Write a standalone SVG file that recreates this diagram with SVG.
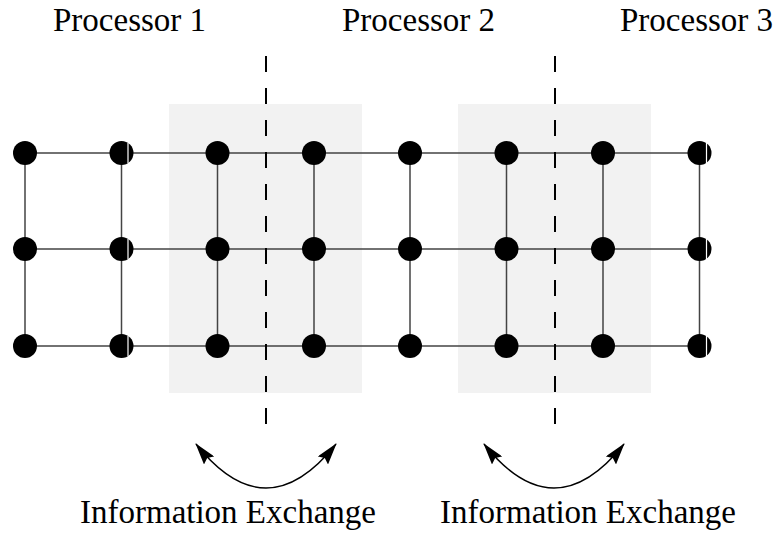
<svg xmlns="http://www.w3.org/2000/svg" width="776" height="533" viewBox="0 0 776 533">
<defs>
<style>
.t{font-family:"Liberation Serif","Times New Roman",serif;font-size:33px;fill:#000}
.box{fill:#f2f2f2}
.ln{stroke:#444;stroke-width:1.5;fill:none}
.dash{stroke:#000;stroke-width:2;stroke-dasharray:16 16;fill:none}
.arc{stroke:#000;stroke-width:1.4;fill:none;marker-start:url(#ah);marker-end:url(#ah)}
.n{fill:#000}
.nk{stroke:#fff;stroke-width:1.2}
</style>
<marker id="ah" viewBox="0 0 22 13" refX="21" refY="6.5" markerWidth="22" markerHeight="13" markerUnits="userSpaceOnUse" orient="auto-start-reverse">
<path d="M0,0 L22,6.5 L0,13 L3,6.5 Z" fill="#000"/>
</marker>
</defs>
<rect class="box" x="169" y="104" width="193" height="289"/>
<rect class="box" x="458" y="104" width="193" height="289"/>
<g id="connectors">
<path class="ln" d="M25,153 H699.5 M25,249 H699.5 M25,346 H699.5"/>
<path class="ln" d="M25,153 V346 M121.5,153 V346 M217.5,153 V346 M314,153 V346 M410,153 V346 M506.5,153 V346 M603,153 V346 M699.5,153 V346"/>
<path class="dash" d="M266,56 V440"/>
<path class="dash" d="M555,56 V440"/>
<path class="arc" d="M196,444 Q266,532 336,444"/>
<path class="arc" d="M484,444 Q554,532 624,444"/>
</g>
<g id="nodes">
<g id="n11"><circle class="n" cx="25" cy="153" r="12"/></g>
<g id="n12"><circle class="n" cx="121.5" cy="153" r="12"/><line class="nk" x1="128" y1="143" x2="128" y2="163"/></g>
<g id="n13"><circle class="n" cx="217.5" cy="153" r="12"/></g>
<g id="n14"><circle class="n" cx="314" cy="153" r="12"/></g>
<g id="n15"><circle class="n" cx="410" cy="153" r="12"/></g>
<g id="n16"><circle class="n" cx="506.5" cy="153" r="12"/></g>
<g id="n17"><circle class="n" cx="603" cy="153" r="12"/></g>
<g id="n18"><circle class="n" cx="699.5" cy="153" r="12"/><line class="nk" x1="706.5" y1="143" x2="706.5" y2="163"/></g>
<g id="n21"><circle class="n" cx="25" cy="249" r="12"/></g>
<g id="n22"><circle class="n" cx="121.5" cy="249" r="12"/><line class="nk" x1="128" y1="239" x2="128" y2="259"/></g>
<g id="n23"><circle class="n" cx="217.5" cy="249" r="12"/></g>
<g id="n24"><circle class="n" cx="314" cy="249" r="12"/></g>
<g id="n25"><circle class="n" cx="410" cy="249" r="12"/></g>
<g id="n26"><circle class="n" cx="506.5" cy="249" r="12"/></g>
<g id="n27"><circle class="n" cx="603" cy="249" r="12"/></g>
<g id="n28"><circle class="n" cx="699.5" cy="249" r="12"/><line class="nk" x1="706.5" y1="239" x2="706.5" y2="259"/></g>
<g id="n31"><circle class="n" cx="25" cy="346" r="12"/></g>
<g id="n32"><circle class="n" cx="121.5" cy="346" r="12"/><line class="nk" x1="128" y1="336" x2="128" y2="356"/></g>
<g id="n33"><circle class="n" cx="217.5" cy="346" r="12"/></g>
<g id="n34"><circle class="n" cx="314" cy="346" r="12"/></g>
<g id="n35"><circle class="n" cx="410" cy="346" r="12"/></g>
<g id="n36"><circle class="n" cx="506.5" cy="346" r="12"/></g>
<g id="n37"><circle class="n" cx="603" cy="346" r="12"/></g>
<g id="n38"><circle class="n" cx="699.5" cy="346" r="12"/><line class="nk" x1="706.5" y1="336" x2="706.5" y2="356"/></g>
</g>
<g id="labels">
<text class="t" x="53" y="31">Processor 1</text>
<text class="t" x="342" y="31">Processor 2</text>
<text class="t" x="620" y="31">Processor 3</text>
<text class="t" x="80" y="523">Information Exchange</text>
<text class="t" x="440" y="523">Information Exchange</text>
</g>
</svg>
